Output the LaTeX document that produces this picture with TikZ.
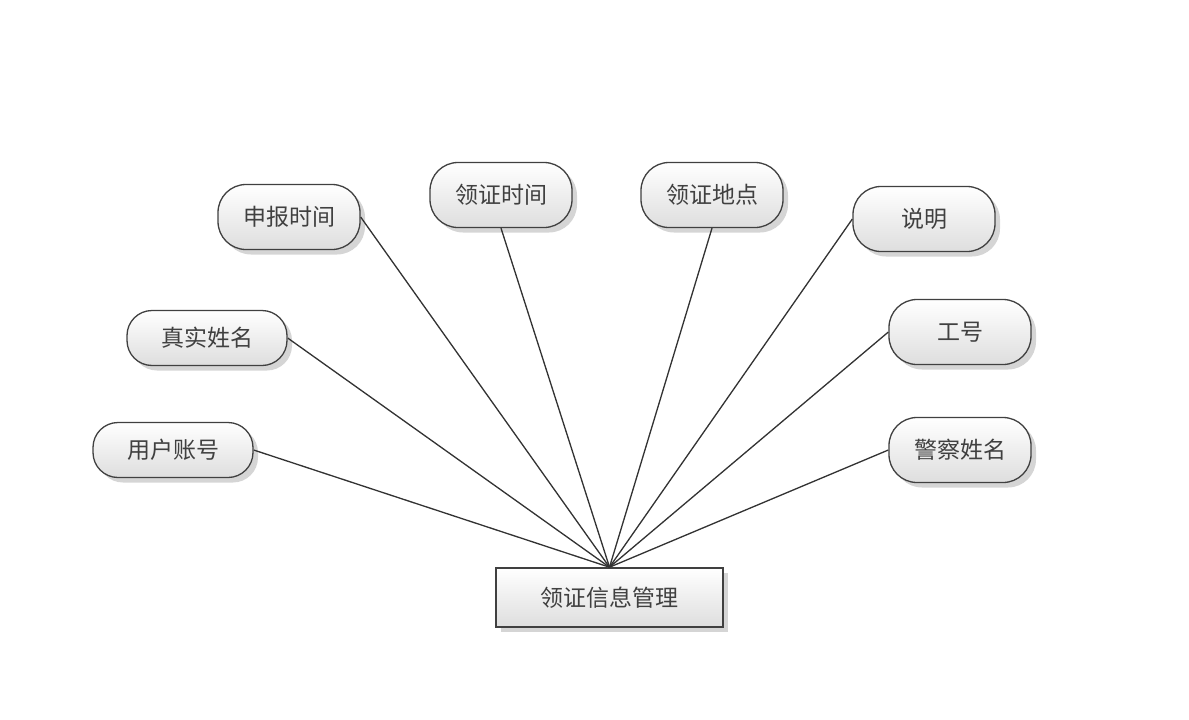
\documentclass[tikz,border=0pt]{standalone}
\usepackage{fontspec}
\setmainfont{Noto Sans CJK SC}
\usetikzlibrary{shadows}
\tikzset{
  attr/.style={draw=black!75, line width=1.3pt, rounded corners=28pt,
    top color=white, bottom color=black!13, minimum width=142pt, minimum height=65pt,
    inner sep=0pt, text=black!75, font=\fontsize{23}{26}\selectfont,
    drop shadow={fill=black!30, opacity=0.55, shadow xshift=5pt, shadow yshift=-5pt}},
  wide/.style={minimum width=160pt, minimum height=55pt, rounded corners=25pt},
  entity/.style={draw=black!75, line width=1.6pt, top color=white, bottom color=black!13,
    minimum width=227pt, minimum height=59pt, inner sep=0pt, text=black!75,
    font=\fontsize{23}{26}\selectfont,
    drop shadow={fill=black!30, opacity=0.55, shadow xshift=5pt, shadow yshift=-5pt}},
  link/.style={draw=black!80, line width=1.3pt},
  linkshadow/.style={draw=black!22, line width=1pt, dotted, shift={(4,4)}}
}
\begin{document}
\begin{tikzpicture}[x=1pt,y=-1pt]
\useasboundingbox (0,0) rectangle (1189,720);
\node[entity] (m) at (609.5,597.5) {领证信息管理};
\node[attr] (sb) at (289,217) {申报时间};
\node[attr] (lt) at (501,195) {领证时间};
\node[attr] (ld) at (712,195) {领证地点};
\node[attr] (sm) at (924,219) {说明};
\node[attr,wide] (zs) at (207,338) {真实姓名};
\node[attr] (gh) at (960,332) {工号};
\node[attr,wide] (yh) at (173,450) {用户账号};
\node[attr] (jc) at (960,450) {警察姓名};
\foreach \a in {sb.east,lt.south,ld.south,sm.west,zs.east,gh.west,yh.east,jc.west}
  \draw[linkshadow] (\a) -- (m.north);
\foreach \a in {sb.east,lt.south,ld.south,sm.west,zs.east,gh.west,yh.east,jc.west}
  \draw[link] (\a) -- (m.north);
\end{tikzpicture}
\end{document}
